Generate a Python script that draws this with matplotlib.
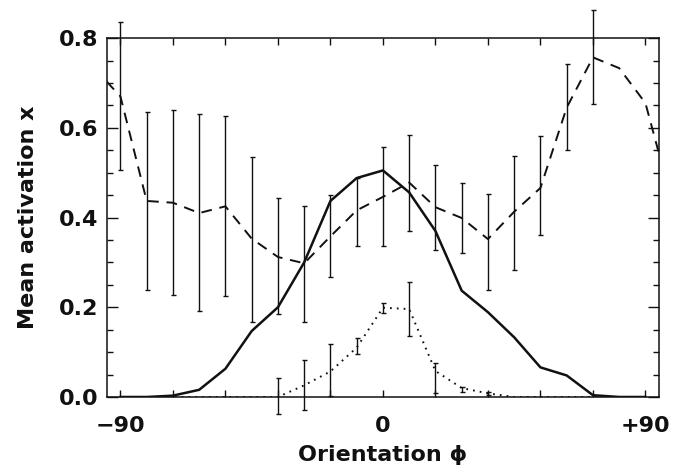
import numpy as np
import matplotlib
matplotlib.use("Agg")
import matplotlib.pyplot as plt
from matplotlib.ticker import FixedLocator, MultipleLocator

# orientation grid (deg); dashed curve is periodic so it carries one extra point each side
phi_dash = [-99, -90, -81, -72, -63, -54, -45, -36, -27, -18, -9, 0,
            9, 18, 27, 36, 45, 54, 63, 72, 81, 90, 99]
dash_y = [0.733, 0.67, 0.437, 0.433, 0.41, 0.425, 0.353, 0.312, 0.298, 0.358, 0.416, 0.446,
          0.478, 0.423, 0.399, 0.352, 0.413, 0.466, 0.645, 0.757, 0.733, 0.655, 0.437]

# error bars of the dashed curve (lower / upper ends)
phi_dash_err = [-90, -81, -72, -63, -54, -45, -36, -27, -18, -9, 0,
                9, 18, 27, 36, 45, 54, 63, 72]
dash_hi = [0.835, 0.635, 0.639, 0.631, 0.627, 0.535, 0.444, 0.425, 0.451, 0.488, 0.557,
           0.585, 0.517, 0.478, 0.453, 0.537, 0.581, 0.742, 0.863]
dash_lo = [0.507, 0.239, 0.228, 0.192, 0.224, 0.168, 0.184, 0.167, 0.267, 0.337, 0.336,
           0.371, 0.328, 0.32, 0.239, 0.284, 0.362, 0.55, 0.652]

phi = [-90, -81, -72, -63, -54, -45, -36, -27, -18, -9, 0,
       9, 18, 27, 36, 45, 54, 63, 72, 81, 90]
solid_y = [0.0, 0.0, 0.003, 0.016, 0.063, 0.147, 0.2, 0.3, 0.437, 0.488, 0.505,
           0.456, 0.37, 0.237, 0.189, 0.133, 0.066, 0.048, 0.004, 0.0, 0.0]
dot_y = [0.0, 0.0, 0.0, 0.0, 0.0, 0.0, 0.0, 0.026, 0.057, 0.11, 0.199,
         0.196, 0.058, 0.02, 0.008, 0.0, 0.0, 0.0, 0.0, 0.0, 0.0]

phi_dot_err = [-36, -27, -18, -9, 0, 9, 18, 27, 36]
dot_hi = [0.042, 0.083, 0.119, 0.132, 0.21, 0.256, 0.076, 0.023, 0.012]
dot_lo = [-0.037, -0.03, 0.003, 0.095, 0.187, 0.135, 0.009, 0.011, 0.005]

xtick_pos = [-90, 0, 90]
xtick_lab = ["\u221290", "0", "+90"]
ytick_pos = [0.0, 0.2, 0.4, 0.6, 0.8]
ytick_lab = ["0.0", "0.2", "0.4", "0.6", "0.8"]

ink = "#111111"
plt.rcParams["font.weight"] = "bold"
plt.rcParams["axes.labelweight"] = "bold"

fig = plt.figure(figsize=(6.73, 4.76), dpi=100)
ax = fig.add_axes([0.159, 0.166, 0.820, 0.754])

ax.plot(phi_dash, dash_y, color=ink, lw=1.4, dashes=(5.5, 4.0), zorder=3)
ax.plot(phi, solid_y, color=ink, lw=1.8, zorder=4)
ax.plot(phi, dot_y, color=ink, lw=1.4, dashes=(0.9, 2.6), zorder=3)


def bars(xs, lo, hi, centre_x, centre_y):
    c = dict(zip(centre_x, centre_y))
    mid = np.array([c[x] for x in xs])
    err = [mid - np.array(lo), np.array(hi) - mid]
    eb = ax.errorbar(xs, mid, yerr=err, fmt="none", ecolor=ink,
                     elinewidth=1.0, capsize=1.8, capthick=1.0, zorder=2)
    for a in list(eb.lines[1]) + list(eb.lines[2]):
        a.set_clip_on(False)


bars(phi_dash_err, dash_lo, dash_hi, phi_dash, dash_y)
bars(phi_dot_err, dot_lo, dot_hi, phi, dot_y)

ax.set_xlim(-94.6, 94.6)
ax.set_ylim(0.0, 0.8)

ax.xaxis.set_major_locator(FixedLocator(xtick_pos))
ax.set_xticklabels(xtick_lab)
ax.xaxis.set_minor_locator(MultipleLocator(18))
ax.yaxis.set_major_locator(FixedLocator(ytick_pos))
ax.set_yticklabels(ytick_lab)
ax.yaxis.set_minor_locator(MultipleLocator(0.05))

ax.tick_params(axis="x", which="both", direction="in", top=True, length=4.7,
               width=1.0, color=ink, labelsize=16, pad=14, labelcolor=ink)
ax.tick_params(axis="y", which="major", direction="in", right=True, length=8,
               width=1.0, color=ink, labelsize=16, pad=6, labelcolor=ink)
ax.tick_params(axis="y", which="minor", direction="in", right=True, length=4.3,
               width=1.0, color=ink)

for s in ax.spines.values():
    s.set_linewidth(1.1)
    s.set_color(ink)

ax.set_xlabel("Orientation \u03d5", fontsize=16, color=ink, labelpad=6)
ax.set_ylabel("Mean activation x", fontsize=16, color=ink, labelpad=15)

fig.savefig("out.png", dpi=100)
